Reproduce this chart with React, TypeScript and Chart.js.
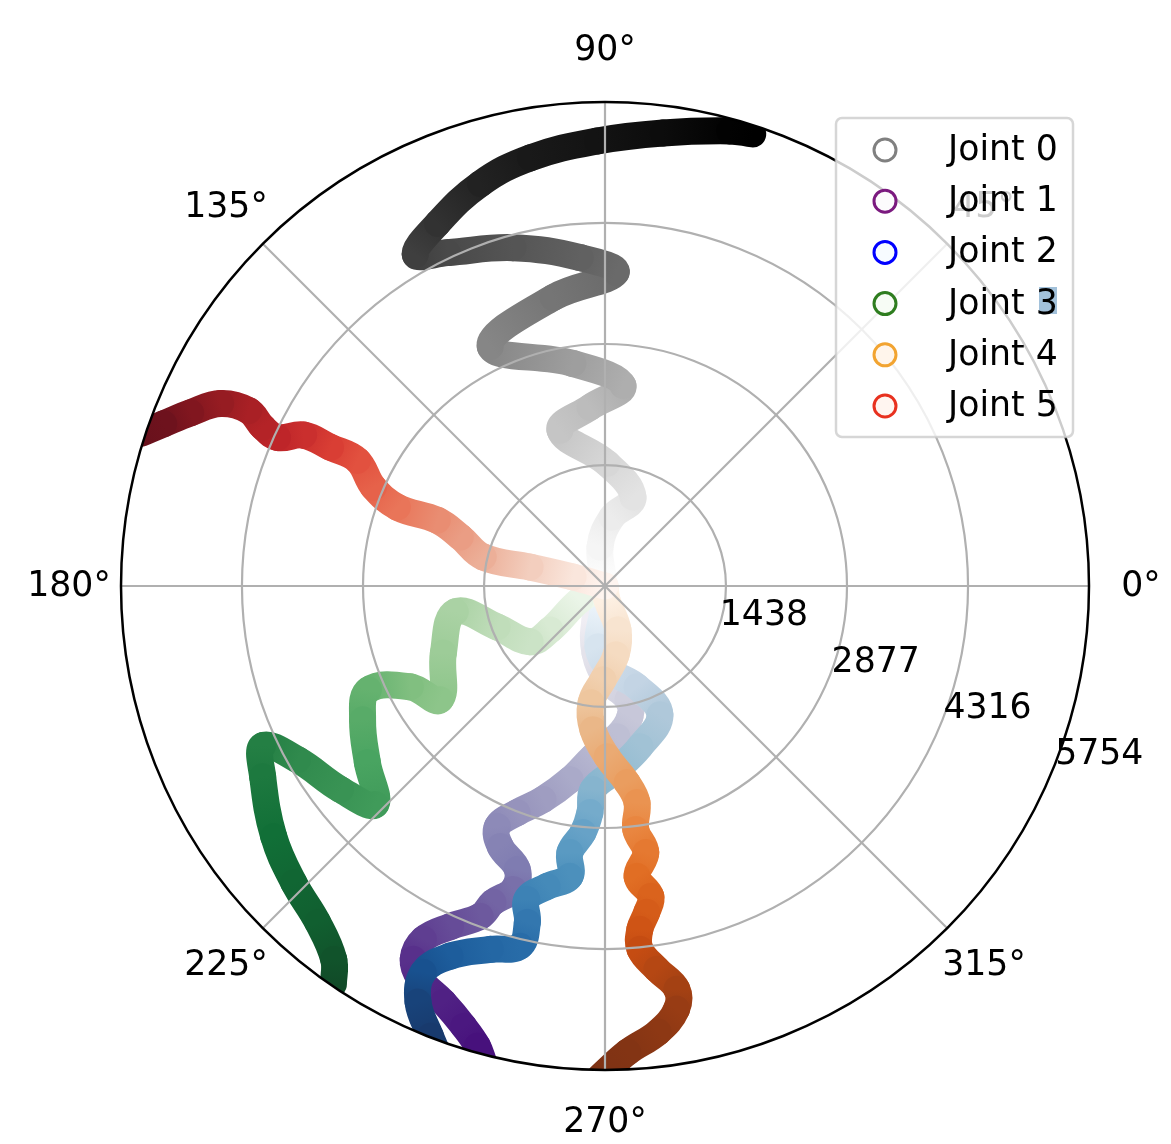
import React, { useEffect, useRef } from "react";
import { Chart, registerables } from "chart.js";

Chart.register(...registerables);

// ---- axis values ----
const R_MAX = 5754;
const R_TICKS = [1438, 2877, 4316, 5754];
const ANGLE_TICKS = [0, 45, 90, 135, 180, 225, 270, 315];
const R_LABEL_ANGLE = -22.5;
const COLOR_R_END = 5650;

// ---- series (theta in degrees, r in data units) ----
const JOINT_LABELS = ["Joint 0", "Joint 1", "Joint 2", "Joint 3", "Joint 4", "Joint 5"];

const J0_THETA = [90, 97.3, 84.2, 72.5, 89.1, 106.1, 94.8, 84.9, 98.2, 115.6, 100.2, 88.0, 94.3, 105.2, 115.3, 119.8, 114.8, 107.2, 99.9, 91.0, 82.7, 74.7, 71.9];
const J0_R = [0, 467, 823, 1107, 1459, 1927, 2131, 2394, 2673, 3157, 3484, 3728, 3914, 4168, 4384, 4538, 4746, 5006, 5167, 5292, 5430, 5609, 5654];

const J1_THETA = [255, 253.6, 261.5, 271.2, 281.4, 280.8, 274.5, 266.0, 259.8, 253.8, 248.8, 245.9, 248.1, 252.8, 253.2, 250.5, 249.3, 245.6, 242.8, 242.8, 244.8, 248.8, 252.2, 254.5, 255.7];
const J1_R = [0, 420, 804, 1115, 1380, 1582, 1797, 2034, 2339, 2643, 2889, 3133, 3338, 3527, 3768, 3989, 4198, 4444, 4722, 4988, 5164, 5308, 5497, 5676, 5842];

const J2_THETA = [265, 265.2, 263.5, 273.4, 287.6, 293.1, 282.3, 273.7, 266.6, 266.2, 264.9, 262.5, 263.1, 259.1, 256.0, 257.0, 256.7, 252.5, 247.3, 244.8, 245.8, 248.8, 250.2];
const J2_R = [0, 286, 728, 998, 1257, 1664, 1955, 2188, 2425, 2699, 2942, 3195, 3477, 3636, 3838, 4104, 4400, 4529, 4770, 5074, 5422, 5740, 5888];

const J3_THETA = [210, 209.2, 218.7, 216.7, 200.8, 189.8, 202.5, 214.6, 207.4, 203.7, 208.9, 216.6, 223.6, 217.6, 209.5, 205.0, 209.1, 217.1, 223.6, 229.5, 234.0, 235.7];
const J3_R = [0, 340, 836, 1110, 1371, 1806, 2080, 2380, 2605, 3071, 3292, 3519, 3768, 3967, 4197, 4490, 4658, 4938, 5111, 5259, 5487, 5729];

const J4_THETA = [270, 278.1, 286.5, 279.1, 268.8, 263.2, 265.2, 270.7, 276.4, 278.4, 277.2, 278.7, 276.3, 278.4, 277.3, 275.8, 275.5, 277.7, 280.1, 279.6, 276.8, 272.8, 269.4];
const J4_R = [0, 168, 544, 829, 1115, 1398, 1714, 2029, 2352, 2602, 2918, 3205, 3473, 3730, 3911, 4102, 4339, 4597, 4869, 5102, 5340, 5547, 5837];

const J5_THETA = [165, 164.3, 165.8, 166.6, 161.3, 158.6, 159.2, 156.9, 153.1, 153.2, 153.4, 155.6, 155.1, 153.8, 154.6, 157.3, 159.8, 161.8];
const J5_R = [0, 394, 918, 1488, 1816, 2141, 2640, 2992, 3300, 3655, 4006, 4274, 4485, 4722, 5057, 5339, 5589, 5807];

// ---- colour maps (ColorBrewer sequential) ----
const GREYS = ["#ffffff", "#f0f0f0", "#d9d9d9", "#bdbdbd", "#969696", "#737373", "#525252", "#252525", "#000000"];
const PURPLES = ["#fcfbfd", "#efedf5", "#dadaeb", "#bcbddc", "#9e9ac8", "#807dba", "#6a51a3", "#54278f", "#3f007d"];
const BLUES = ["#f7fbff", "#deebf7", "#c6dbef", "#9ecae1", "#6baed6", "#4292c6", "#2171b5", "#08519c", "#08306b"];
const GREENS = ["#f7fcf5", "#e5f5e0", "#c7e9c0", "#a1d99b", "#74c476", "#41ab5d", "#238b45", "#006d2c", "#00441b"];
const ORANGES = ["#fff5eb", "#fee6ce", "#fdd0a2", "#fdae6b", "#fd8d3c", "#f16913", "#d94801", "#a63603", "#7f2704"];
const REDS = ["#fff5f0", "#fee0d2", "#fcbba1", "#fc9272", "#fb6a4a", "#ef3b2c", "#cb181d", "#a50f15", "#67000d"];
const LEGEND_EDGE = ["#808080", "#7b1a7f", "#0000ff", "#2e7d1f", "#f2a431", "#e8311f"];

const FONT = '34.7px "DejaVu Sans"';

function hexRgb(h: string) {
  const n = parseInt(h.slice(1), 16);
  return [(n >> 16) & 255, (n >> 8) & 255, n & 255];
}
function cmap(stops: string[], t: number, muted = false) {
  const tt = Math.max(0, Math.min(1, t));
  const pos = tt * (stops.length - 1);
  const i = Math.min(stops.length - 2, Math.floor(pos));
  const f = pos - i;
  const a = hexRgb(stops[i]);
  const b = hexRgb(stops[i + 1]);
  let c = a.map((v, k) => v + (b[k] - v) * f);
  if (muted) {
    const m = 0.14 * Math.min(1, tt / 0.3);
    c = c.map((v) => v * (1 - m) + 120 * m);
  }
  return `rgb(${Math.round(c[0])},${Math.round(c[1])},${Math.round(c[2])})`;
}

const JOINTS = [
  { theta: J0_THETA, r: J0_R, stops: GREYS, muted: false },
  { theta: J1_THETA, r: J1_R, stops: PURPLES, muted: true },
  { theta: J2_THETA, r: J2_R, stops: BLUES, muted: true },
  { theta: J3_THETA, r: J3_R, stops: GREENS, muted: true },
  { theta: J4_THETA, r: J4_R, stops: ORANGES, muted: true },
  { theta: J5_THETA, r: J5_R, stops: REDS, muted: true },
];

function geom(chart: any) {
  const sx = chart.scales.x;
  const sy = chart.scales.y;
  const cx = sx.getPixelForValue(0);
  const cy = sy.getPixelForValue(0);
  const rp = (v: number) => sx.getPixelForValue(v) - cx;
  return { cx, cy, rp, R: rp(R_MAX) };
}

const polarPlugin = {
  id: "polarDecor",
  beforeDatasetsDraw(chart: any) {
    const { ctx } = chart;
    const g = geom(chart);
    ctx.save();
    ctx.beginPath();
    ctx.arc(g.cx, g.cy, g.R, 0, Math.PI * 2);
    ctx.clip();
  },
  afterDatasetsDraw(chart: any) {
    const { ctx } = chart;
    ctx.restore();
    const g = geom(chart);
    ctx.save();
    // grid
    ctx.strokeStyle = "#b0b0b0";
    ctx.lineWidth = 2.2;
    R_TICKS.slice(0, -1).forEach((v) => {
      ctx.beginPath();
      ctx.arc(g.cx, g.cy, g.rp(v), 0, Math.PI * 2);
      ctx.stroke();
    });
    ANGLE_TICKS.forEach((a) => {
      const rad = (a * Math.PI) / 180;
      ctx.beginPath();
      ctx.moveTo(g.cx, g.cy);
      ctx.lineTo(g.cx + g.R * Math.cos(rad), g.cy - g.R * Math.sin(rad));
      ctx.stroke();
    });
    // spine
    ctx.strokeStyle = "#000";
    ctx.lineWidth = 2.5;
    ctx.beginPath();
    ctx.arc(g.cx, g.cy, g.R, 0, Math.PI * 2);
    ctx.stroke();
    // angle labels
    ctx.fillStyle = "#000";
    ctx.font = FONT;
    ctx.textAlign = "center";
    ctx.textBaseline = "middle";
    const lr = g.R + 52;
    ANGLE_TICKS.forEach((a) => {
      const rad = (a * Math.PI) / 180;
      ctx.fillText(`${a}°`, g.cx + lr * Math.cos(rad), g.cy - lr * Math.sin(rad) + 1);
    });
    // radial labels
    ctx.textAlign = "left";
    ctx.textBaseline = "alphabetic";
    const la = (R_LABEL_ANGLE * Math.PI) / 180;
    R_TICKS.forEach((v) => {
      const rr = g.rp(v);
      ctx.fillText(String(v), g.cx + rr * Math.cos(la) + 3, g.cy - rr * Math.sin(la) - 7);
    });
    // legend
    const bx = 836, by = 118, bw = 237, bh = 319;
    ctx.beginPath();
    ctx.roundRect(bx, by, bw, bh, 6);
    ctx.fillStyle = "rgba(255,255,255,0.8)";
    ctx.fill();
    ctx.strokeStyle = "rgba(204,204,204,0.8)";
    ctx.lineWidth = 2.5;
    ctx.stroke();
    JOINT_LABELS.forEach((lab, i) => {
      const y = 150 + i * 51.2;
      ctx.beginPath();
      ctx.arc(885, y, 11, 0, Math.PI * 2);
      ctx.fillStyle = cmap(JOINTS[i].stops, 0);
      ctx.fill();
      ctx.strokeStyle = LEGEND_EDGE[i];
      ctx.lineWidth = 3;
      ctx.stroke();
      if (i === 3) {
        ctx.fillStyle = "#a2c1da";
        ctx.fillRect(1039, 287, 18, 27);
      }
      ctx.fillStyle = "#000";
      ctx.font = FONT;
      ctx.fillText(lab, 948, y + 10);
    });
    ctx.restore();
  },
};

export default function App() {
  const ref = useRef<HTMLCanvasElement>(null);
  useEffect(() => {
    const datasets = JOINTS.map((j, idx) => {
      const tOf = (i: number) => j.r[i] / COLOR_R_END;
      return {
        label: JOINT_LABELS[idx],
        order: JOINTS.length - 1 - idx,
        data: j.theta.map((th, i) => ({
          x: j.r[i] * Math.cos((th * Math.PI) / 180),
          y: j.r[i] * Math.sin((th * Math.PI) / 180),
        })),
        showLine: true,
        borderWidth: 27,
        borderCapStyle: "round",
        borderJoinStyle: "round",
        tension: 0.4,
        pointRadius: 0,
        pointHoverRadius: 0,
        borderColor: cmap(j.stops, 0.5, j.muted),
        segment: {
          borderColor: (c: any) => {
            const g = c.chart.ctx.createLinearGradient(c.p0.x, c.p0.y, c.p1.x, c.p1.y);
            g.addColorStop(0, cmap(j.stops, tOf(c.p0DataIndex), j.muted));
            g.addColorStop(1, cmap(j.stops, tOf(c.p1DataIndex), j.muted));
            return g;
          },
          borderDashOffset: (c: any) => c.p0DataIndex * 0.001,
        },
      };
    });
    const chart = new Chart(ref.current as HTMLCanvasElement, {
      type: "scatter",
      data: { datasets: datasets as any },
      options: {
        responsive: false,
        maintainAspectRatio: false,
        devicePixelRatio: 1,
        animation: false,
        events: [],
        layout: { padding: { left: 121, right: 82, top: 102, bottom: 74 } },
        scales: {
          x: { type: "linear", min: -R_MAX, max: R_MAX, display: false },
          y: { type: "linear", min: -R_MAX, max: R_MAX, display: false },
        },
        plugins: { legend: { display: false }, tooltip: { enabled: false } },
      },
      plugins: [polarPlugin],
    } as any);
    return () => chart.destroy();
  }, []);
  return (
    <div style={{ position: "absolute", left: 0, top: 0, width: 1171, height: 1144, background: "#fff" }}>
      <canvas ref={ref} width={1171} height={1144} style={{ display: "block", width: 1171, height: 1144 }} />
    </div>
  );
}
